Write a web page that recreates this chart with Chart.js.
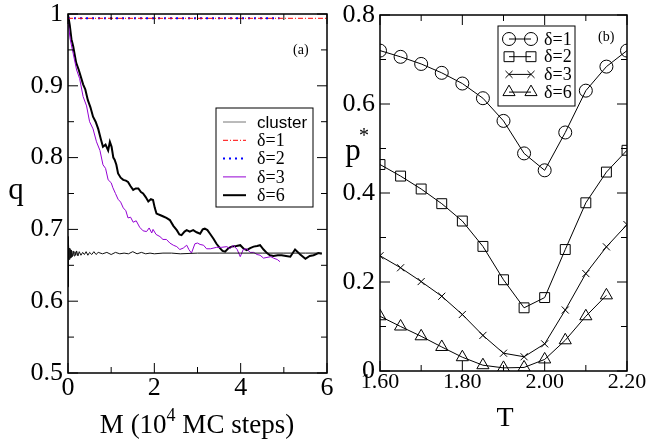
<!DOCTYPE html>
<html lang="en">
<head>
<meta charset="UTF-8">
<script src="https://cdn.jsdelivr.net/npm/chart.js"></script>
<title>q vs M and p* vs T</title>
<style>
  body { margin: 0; background: #fff; }
  #wrap { position: relative; width: 646px; height: 444px; }
  canvas { position: absolute; top: 0; }
  #left { left: 0; }
  #right { left: 330px; }
</style>
</head>
<body>
<div id="wrap">
  <canvas id="left" width="340" height="444" style="width:340px;height:444px"></canvas>
  <canvas id="right" width="316" height="444" style="width:316px;height:444px"></canvas>
</div>
<script>
// ---- panel (a): q against M (10^4 MC steps), [M, q] pairs
const qCluster = [[0,0.62],[0.004,0.69],[0.01,0.652],[0.02,0.68],[0.03,0.658],[0.04,0.674],[0.05,0.66],[0.06,0.672],[0.07,0.661],
  [0.08,0.671],[0.1,0.662],[0.12,0.67],[0.14,0.663],[0.16,0.669],[0.18,0.664],[0.2,0.67],[0.23,0.663],[0.26,0.669],[0.3,0.664],
  [0.34,0.668],[0.38,0.665],[0.42,0.669],[0.46,0.664],[0.5,0.668],[0.55,0.665],[0.6,0.669],[0.65,0.665],[0.7,0.668],[0.8,0.666],
  [0.9,0.668],[1.0,0.665],[1.1,0.668],[1.2,0.666],[1.3,0.667],[1.4,0.666],[1.5,0.669],[1.6,0.666],[1.7,0.668],[1.8,0.666],
  [1.9,0.667],[2.0,0.666],[2.2,0.667],[2.4,0.667],[2.6,0.666],[3.0,0.667],[3.5,0.667],[4.0,0.667],[4.5,0.667],[5.0,0.667],
  [5.5,0.667],[5.88,0.667]];
const qDelta1 = [[0,0.994],[6,0.994]];
const qDelta2 = [[0,0.994],[4.9,0.994]];
const qDelta3 = [[0,0.99],[0.05,0.965],[0.12,0.945],[0.2,0.922],[0.27,0.91],[0.35,0.885],[0.43,0.872],[0.5,0.85],[0.58,0.84],
  [0.66,0.822],[0.74,0.81],[0.81,0.79],[0.87,0.785],[0.93,0.769],[1.0,0.765],[1.04,0.758],[1.1,0.75],[1.16,0.742],[1.22,0.738],
  [1.28,0.73],[1.34,0.726],[1.39,0.716],[1.45,0.717],[1.51,0.71],[1.58,0.712],[1.66,0.703],[1.74,0.698],[1.82,0.697],[1.88,0.702],
  [1.94,0.695],[1.97,0.7],[2.04,0.693],[2.13,0.69],[2.2,0.686],[2.28,0.686],[2.36,0.681],[2.44,0.678],[2.52,0.676],[2.59,0.672],
  [2.67,0.674],[2.75,0.678],[2.8,0.672],[2.86,0.667],[2.94,0.68],[3.0,0.681],[3.06,0.679],[3.14,0.678],[3.21,0.673],[3.3,0.673],
  [3.44,0.675],[3.55,0.675],[3.68,0.676],[3.75,0.673],[3.83,0.678],[3.92,0.672],[3.99,0.662],[4.06,0.672],[4.14,0.673],[4.22,0.668],
  [4.3,0.668],[4.38,0.665],[4.45,0.664],[4.53,0.66],[4.61,0.661],[4.7,0.662],[4.76,0.66],[4.85,0.658],[4.91,0.655]];
const qDelta6 = [[0,0.999],[0.04,0.985],[0.08,0.965],[0.12,0.955],[0.19,0.932],[0.25,0.922],[0.31,0.91],[0.35,0.902],[0.4,0.895],
  [0.46,0.88],[0.52,0.87],[0.58,0.857],[0.64,0.85],[0.7,0.84],[0.76,0.826],[0.81,0.815],[0.87,0.818],[0.93,0.81],[0.97,0.822],
  [1.01,0.815],[1.05,0.8],[1.08,0.797],[1.12,0.79],[1.16,0.778],[1.22,0.772],[1.28,0.769],[1.34,0.768],[1.39,0.766],[1.45,0.76],
  [1.51,0.755],[1.57,0.757],[1.63,0.757],[1.69,0.752],[1.74,0.75],[1.8,0.745],[1.86,0.739],[1.92,0.742],[1.97,0.741],[2.01,0.73],
  [2.05,0.722],[2.13,0.72],[2.21,0.718],[2.28,0.716],[2.36,0.713],[2.44,0.705],[2.52,0.699],[2.58,0.693],[2.63,0.692],[2.7,0.697],
  [2.75,0.699],[2.82,0.697],[2.9,0.699],[2.98,0.696],[3.06,0.694],[3.12,0.7],[3.17,0.701],[3.23,0.699],[3.29,0.694],[3.37,0.687],
  [3.44,0.68],[3.52,0.674],[3.58,0.67],[3.64,0.669],[3.72,0.674],[3.79,0.676],[3.9,0.677],[3.99,0.678],[4.07,0.673],[4.14,0.671],
  [4.22,0.674],[4.3,0.676],[4.38,0.677],[4.45,0.678],[4.53,0.672],[4.61,0.667],[4.68,0.664],[4.76,0.663],[4.86,0.664],[4.95,0.664],
  [5.05,0.663],[5.15,0.662],[5.26,0.672],[5.38,0.665],[5.5,0.659],[5.6,0.663],[5.69,0.664],[5.8,0.667],[5.88,0.666]];
const leftLabels = ['cluster', 'δ=1', 'δ=2', 'δ=3', 'δ=6'];

// ---- panel (b): p* against T
const temps = [1.60, 1.65, 1.70, 1.75, 1.80, 1.85, 1.90, 1.95, 2.00, 2.05, 2.10, 2.15, 2.20];
const pDelta1 = [0.720, 0.706, 0.690, 0.670, 0.646, 0.613, 0.562, 0.489, 0.451, 0.536, 0.630, 0.684, 0.720];
const pDelta2 = [0.464, 0.438, 0.409, 0.376, 0.337, 0.280, 0.205, 0.142, 0.165, 0.273, 0.378, 0.447, 0.496];
const pDelta3 = [0.259, 0.232, 0.201, 0.168, 0.127, 0.080, 0.040, 0.032, 0.061, 0.137, 0.219, 0.279, 0.329];
const pDelta6 = [0.123, 0.100, 0.078, 0.054, 0.031, 0.013, 0.007, 0.008, 0.026, 0.069, 0.123, 0.170, null];
const rightLabels = ['δ=1', 'δ=2', 'δ=3', 'δ=6'];

const serif = "'Liberation Serif', 'DejaVu Serif', serif";
const sans = "'Liberation Sans', Arial, sans-serif";
Chart.defaults.font.family = serif;
Chart.defaults.color = '#000';

const pairs = arr => arr.map(([x, y]) => ({ x, y }));
const byTemp = arr => temps.map((t, i) => ({ x: t, y: arr[i] })).filter(p => p.y !== null);
const plain = v => String(Number(v.toFixed(2)));

// frame, inward ticks, free texts and a boxed legend drawn on top of the chart
function decor(cfg) {
  return {
    id: 'decor',
    afterDraw(chart) {
      const { ctx, chartArea: a } = chart;
      const sx = chart.scales.x, sy = chart.scales.y;
      ctx.save();
      ctx.strokeStyle = '#000';
      ctx.lineWidth = 1;
      const seg = (x1, y1, x2, y2) => { ctx.beginPath(); ctx.moveTo(x1, y1); ctx.lineTo(x2, y2); ctx.stroke(); };
      const isMajor = (v, step) => Math.abs(v / step - Math.round(v / step)) < 1e-6;
      for (let i = 0; ; i++) {
        const v = sx.min + i * cfg.xMinor;
        if (v > sx.max + 1e-9) break;
        const px = sx.getPixelForValue(v), len = isMajor(v, cfg.xMajor) ? 10 : 6;
        seg(px, a.bottom, px, a.bottom - len);
        seg(px, a.top, px, a.top + len);
      }
      for (let i = 0; ; i++) {
        const v = sy.min + i * cfg.yMinor;
        if (v > sy.max + 1e-9) break;
        const py = sy.getPixelForValue(v), len = isMajor(v, cfg.yMajor) ? 10 : 6;
        seg(a.left, py, a.left + len, py);
        seg(a.right, py, a.right - len, py);
      }
      ctx.lineWidth = 1.5;
      ctx.strokeRect(a.left, a.top, a.right - a.left, a.bottom - a.top);

      // texts
      ctx.fillStyle = '#000';
      ctx.textBaseline = 'alphabetic';
      cfg.texts.forEach(t => {
        let w = 0;
        t.parts.forEach(p => { ctx.font = p.font; w += ctx.measureText(p.text).width; });
        let x = t.align === 'left' ? t.x : t.x - w / 2;
        ctx.textAlign = 'left';
        t.parts.forEach(p => {
          ctx.font = p.font;
          ctx.fillText(p.text, x, t.y - (p.rise || 0));
          x += ctx.measureText(p.text).width;
        });
      });

      // legend
      const L = cfg.legend;
      ctx.lineWidth = 1;
      ctx.strokeStyle = '#000';
      ctx.strokeRect(L.box[0], L.box[1], L.box[2] - L.box[0], L.box[3] - L.box[1]);
      ctx.textBaseline = 'middle';
      chart.data.datasets.forEach((ds, i) => {
        const y = L.y0 + i * L.dy;
        ctx.save();
        ctx.strokeStyle = ds.legendColor || ds.borderColor;
        ctx.lineWidth = ds.borderWidth;
        ctx.setLineDash(ds.borderDash || []);
        seg(L.x1, y, L.x2, y);
        ctx.restore();
        if (ds.pointRadius > 0 && Chart.helpers && Chart.helpers.drawPoint) {
          ctx.save();
          ctx.strokeStyle = '#000';
          ctx.fillStyle = 'rgba(0,0,0,0)';
          ctx.lineWidth = 1;
          const opt = { pointStyle: ds.pointStyle, radius: ds.pointRadius, borderWidth: 1, rotation: 0 };
          Chart.helpers.drawPoint(ctx, opt, L.x1, y);
          Chart.helpers.drawPoint(ctx, opt, L.x2, y);
          ctx.restore();
        }
        ctx.font = ds.legendFont || L.font;
        ctx.textAlign = 'left';
        ctx.fillStyle = '#000';
        ctx.fillText(ds.label, L.tx, y + 1);
      });
      ctx.restore();
    }
  };
}

function fixScale(size, horizontal) {
  return scale => {
    if (horizontal) scale.height = size; else scale.width = size;
    scale.paddingLeft = scale.paddingRight = scale.paddingTop = scale.paddingBottom = 0;
  };
}

// ---- chart (a)
new Chart(document.getElementById('left'), {
  type: 'line',
  data: {
    datasets: [
      { label: leftLabels[0], data: pairs(qCluster), borderColor: '#111', legendColor: '#777', borderWidth: 1, legendFont: '17px ' + sans },
      { label: leftLabels[1], data: pairs(qDelta1), borderColor: '#ff0000', borderWidth: 1, borderDash: [5, 2, 1, 2] },
      { label: leftLabels[2], data: pairs(qDelta2), borderColor: '#0000ff', borderWidth: 2, borderDash: [2, 4] },
      { label: leftLabels[3], data: pairs(qDelta3), borderColor: '#9400d3', borderWidth: 1 },
      { label: leftLabels[4], data: pairs(qDelta6), borderColor: '#000', borderWidth: 2 }
    ].map(d => Object.assign({ pointRadius: 0, tension: 0, fill: false }, d))
  },
  options: {
    responsive: false,
    animation: false,
    layout: { padding: { left: 0, top: 14, right: 13, bottom: 0 } },
    plugins: { legend: { display: false }, tooltip: { enabled: false } },
    scales: {
      x: {
        type: 'linear', min: 0, max: 6,
        grid: { display: false, drawTicks: false }, border: { display: false },
        ticks: { stepSize: 2, autoSkip: false, maxRotation: 0, padding: 2, color: '#000',
          font: { family: serif, size: 26, lineHeight: 1 }, callback: plain },
        afterFit: fixScale(71, true)
      },
      y: {
        min: 0.5, max: 1,
        grid: { display: false, drawTicks: false }, border: { display: false },
        ticks: { stepSize: 0.1, autoSkip: false, padding: 5, color: '#000',
          font: { family: serif, size: 26, lineHeight: 1 }, callback: plain },
        afterFit: fixScale(68, false)
      }
    }
  },
  plugins: [decor({
    xMajor: 2, xMinor: 1, yMajor: 0.1, yMinor: 0.05,
    texts: [
      { x: 16, y: 199, parts: [{ text: 'q', font: '31px ' + serif }] },
      { x: 197, y: 433, parts: [{ text: 'M (10', font: '27px ' + serif }, { text: '4', font: '18px ' + serif, rise: 12 }, { text: ' MC steps)', font: '27px ' + serif }] },
      { x: 293, y: 54, align: 'left', parts: [{ text: '(a)', font: '14px ' + serif }] }
    ],
    legend: { box: [216, 108, 313, 207], y0: 122, dy: 18.3, x1: 223, x2: 246, tx: 257, font: '18px ' + serif }
  })]
});

// ---- chart (b)
const rightStyles = ['circle', 'rect', 'crossRot', 'triangle'];
const rightRadius = [6.5, 7, 5, 7];
new Chart(document.getElementById('right'), {
  type: 'line',
  data: {
    datasets: [pDelta1, pDelta2, pDelta3, pDelta6].map((arr, i) => ({
      label: rightLabels[i], data: byTemp(arr),
      borderColor: '#000', borderWidth: 1, tension: 0, fill: false,
      pointStyle: rightStyles[i], pointRadius: rightRadius[i],
      pointBorderColor: '#000', pointBackgroundColor: 'rgba(0,0,0,0)', pointBorderWidth: 1
    }))
  },
  options: {
    responsive: false,
    animation: false,
    layout: { padding: { left: 0, top: 15, right: 19, bottom: 0 } },
    plugins: { legend: { display: false }, tooltip: { enabled: false } },
    scales: {
      x: {
        type: 'linear', min: 1.6, max: 2.2,
        grid: { display: false, drawTicks: false }, border: { display: false },
        ticks: { stepSize: 0.2, autoSkip: false, maxRotation: 0, padding: 0, color: '#000',
          font: { family: serif, size: 22, lineHeight: 1 }, callback: v => v.toFixed(2) },
        afterFit: fixScale(73, true)
      },
      y: {
        min: 0, max: 0.8,
        grid: { display: false, drawTicks: false }, border: { display: false },
        ticks: { stepSize: 0.2, autoSkip: false, padding: 5, color: '#000',
          font: { family: serif, size: 26, lineHeight: 1 }, callback: plain },
        afterFit: fixScale(50, false)
      }
    }
  },
  plugins: [decor({
    xMajor: 0.2, xMinor: 0.1, yMajor: 0.2, yMinor: 0.1,
    texts: [
      { x: 23, y: 160, parts: [{ text: 'p', font: '31px ' + serif }] },
      { x: 34, y: 142, parts: [{ text: '*', font: '20px ' + serif }] },
      { x: 175, y: 426, parts: [{ text: 'T', font: '28px ' + serif }] },
      { x: 268, y: 41, align: 'left', parts: [{ text: '(b)', font: '14px ' + serif }] }
    ],
    legend: { box: [168, 26, 245, 106], y0: 39, dy: 17.7, x1: 179, x2: 201, tx: 214, font: '18px ' + serif }
  })]
});
</script>
</body>
</html>
